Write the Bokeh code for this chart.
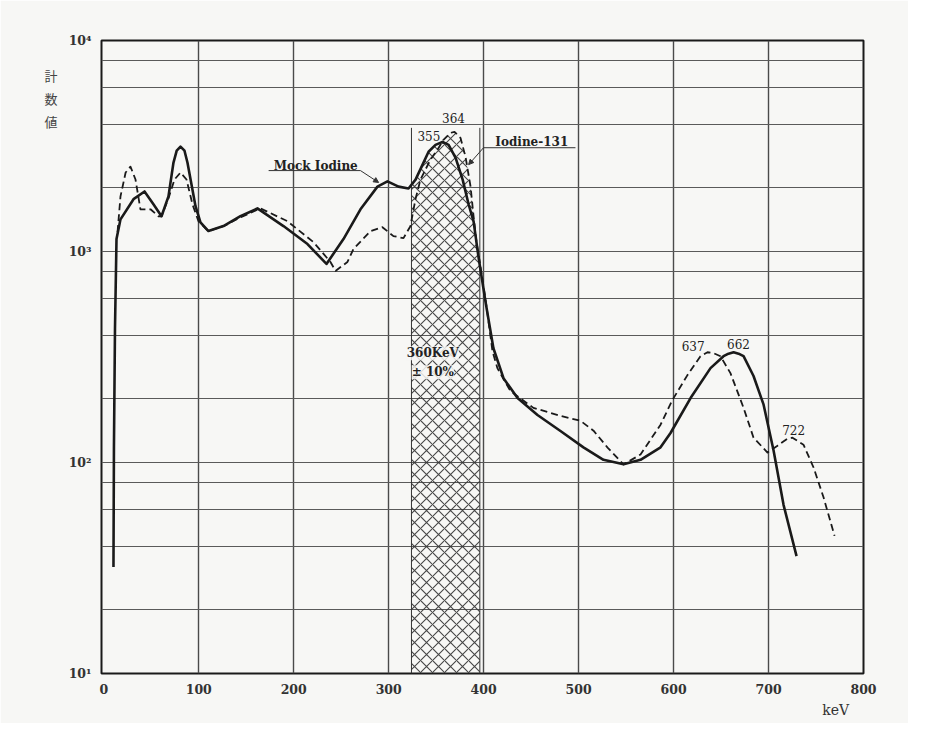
import numpy as np
from bokeh.plotting import figure
from bokeh.models import (Range1d, FixedTicker, CustomJSTickFormatter, Label,
                          Arrow, NormalHead, LogAxis, LinearAxis)
from bokeh.embed import file_html
from bokeh.resources import INLINE

# ---- data (keV, counts) ----
mock_kev = [10.2, 10.7, 11.8, 13.4, 17.6, 31.3, 42.9, 52.3, 60.8, 68.1, 73.4, 76.8,
            80.8, 85.0, 88.1, 96.6, 101.8, 110.2, 126.0, 143.9, 161.8, 189.2, 214.5,
            234.5, 252.4, 270.3, 288.2, 298.7, 310.4, 320.9, 328.3, 335.7, 342.0,
            349.3, 356.7, 363.1, 370.5, 377.9, 384.2, 389.4, 394.6, 401.9, 410.3,
            420.9, 435.7, 456.7, 480.9, 505.1, 526.2, 547.3, 565.2, 586.3, 596.8,
            617.9, 638.9, 652.6, 657.9, 663.2, 668.4, 673.7, 684.2, 694.8, 705.3,
            715.8, 729.5]
mock_cnt = [32, 118, 430, 1145, 1420, 1770, 1925, 1675, 1470, 1825, 2640, 3004,
            3140, 3004, 2640, 1640, 1375, 1250, 1320, 1470, 1600, 1320, 1085,
            873, 1145, 1585, 2030, 2150, 2030, 1990, 2190, 2580, 2970,
            3200, 3310, 3200, 2780, 2190, 1670, 1390, 940, 580, 348,
            251, 202, 168, 141, 118, 103, 98, 103, 118, 138,
            202, 280, 319, 328, 333, 328, 319, 257, 188, 114,
            63, 36]

i131_kev = [14.5, 17.6, 23.0, 28.1, 33.4, 38.6, 49.2, 57.6, 60.8, 68.1, 74.5, 80.8,
            87.1, 93.4, 99.7, 110.2, 126.0, 143.9, 164.9, 193.3, 220.8, 238.7,
            244.0, 256.6, 262.9, 280.8, 293.4, 305.0, 315.6, 322.9, 328.2, 333.5,
            344.0, 351.4, 357.7, 365.1, 369.3, 375.6, 380.9, 386.2, 389.4, 392.5,
            395.7, 401.9, 409.3, 414.5, 428.2, 452.4, 480.9, 502.0, 515.7, 530.5,
            547.3, 565.2, 586.3, 598.8, 614.6, 628.3, 635.7, 642.0, 649.4, 659.9,
            673.7, 684.2, 698.9, 709.5, 720.0, 725.2, 736.8, 747.4, 757.9, 769.5]
i131_cnt = [1235, 1825, 2367, 2526, 2194, 1585, 1585, 1469, 1469, 1784, 2194, 2367,
            2194, 1673, 1392, 1249, 1318, 1450, 1602, 1392, 1108, 892,
            809, 892, 1027, 1249, 1304, 1183, 1157, 1318, 1767, 2194,
            2724, 3036, 3384, 3650, 3690, 3458, 2814, 2033, 1469, 1108,
            902, 598, 337, 280, 218, 181.5, 166.4, 157.6, 141.5, 117.7,
            97.9, 109.1, 151, 197.9, 259.5, 318.8, 333, 330, 318.8, 265.2,
            181.5, 131.1, 111.5, 120.2, 129.7, 131.1, 121.5, 94.7, 68.4, 44.9]

window_lo, window_hi = 324, 396          # 360 keV +/- 10 %
x_ticks = [0, 100, 200, 300, 400, 500, 600, 700, 800]
y_decades = [10, 100, 1000, 10000]
y_grid = [10, 20, 40, 60, 80, 100, 200, 400, 600, 800,
          1000, 2000, 4000, 6000, 8000, 10000]

y_title_chars = ["計", "数", "値"]
y_title_pos = [6839, 5320, 4150]
x_title = "keV"
x_title_pos = 770.8

peak_labels = ["355", "364", "637", "662", "722"]
peak_x = [342.3, 368.3, 620.6, 668.4, 726.4]
peak_y = [3532, 4296, 355, 363, 143]

PAPER = "#f7f7f5"
INK = "#1a1a1a"
SERIF = "DejaVu Serif"

p = figure(width=908, height=723, y_axis_type="log",
           x_range=Range1d(-2.4, 800), y_range=Range1d(10, 10000),
           output_backend="svg", toolbar_location=None, title=None,
           min_border_left=101, min_border_right=45,
           min_border_top=40, min_border_bottom=50)
p.background_fill_color = PAPER
p.border_fill_color = PAPER
p.outline_line_color = INK
p.outline_line_width = 2

# grid
p.xgrid.ticker = FixedTicker(ticks=x_ticks[1:-1])
p.ygrid.ticker = FixedTicker(ticks=y_grid)
p.xgrid.grid_line_color = "#4a4a4a"
p.xgrid.grid_line_width = 1.4
p.ygrid.grid_line_color = "#5a5a5a"
p.ygrid.grid_line_width = 1.2

# axes
p.xaxis.ticker = FixedTicker(ticks=x_ticks)
p.yaxis.ticker = FixedTicker(ticks=y_decades)
p.yaxis.formatter = CustomJSTickFormatter(
    code="const s=['\u2070','\u00b9','\u00b2','\u00b3','\u2074'];"
         "return '10' + s[Math.round(Math.log10(tick))];")

# extra axes carrying the axis titles at their exact positions
ytitle_ax = LogAxis(ticker=FixedTicker(ticks=y_title_pos),
                    formatter=CustomJSTickFormatter(
                        args=dict(labs=y_title_chars),
                        code="return labs[index];"))
xtitle_ax = LinearAxis(ticker=FixedTicker(ticks=[x_title_pos]),
                       formatter=CustomJSTickFormatter(
                           args=dict(lab=x_title), code="return lab;"))
p.add_layout(ytitle_ax, "left")
p.add_layout(xtitle_ax, "below")

for ax in (p.xaxis[0], p.yaxis[0], ytitle_ax, xtitle_ax):
    ax.axis_line_color = None
    ax.major_tick_line_color = None
    ax.minor_tick_line_color = None
    ax.major_tick_out = 0
    ax.major_tick_in = 0
    ax.minor_tick_out = 0
    ax.minor_tick_in = 0
    ax.major_label_text_font = SERIF
    ax.major_label_text_font_size = "12.5px"
    ax.major_label_text_color = "#333333"
    ax.major_label_text_font_style = "bold"
p.xaxis[0].major_label_standoff = 10
p.yaxis[0].major_label_standoff = 10
ytitle_ax.major_label_text_font = "Noto Sans CJK JP"
ytitle_ax.major_label_text_font_size = "13px"
ytitle_ax.major_label_text_font_style = "normal"
ytitle_ax.major_label_text_color = "#444444"
ytitle_ax.major_label_standoff = 8
xtitle_ax.major_label_text_font_size = "14px"
xtitle_ax.major_label_text_font_style = "normal"
xtitle_ax.major_label_standoff = 5

# hatched energy window under the upper envelope of both curves
xs = sorted(set([window_lo, window_hi] +
                [k for k in mock_kev + i131_kev if window_lo < k < window_hi]))
env = np.maximum(np.interp(xs, mock_kev, mock_cnt), np.interp(xs, i131_kev, i131_cnt))
p.varea(x=xs, y1=[10] * len(xs), y2=env, fill_alpha=0,
        hatch_pattern="x", hatch_scale=12, hatch_weight=1.1,
        hatch_color="#333333", hatch_alpha=0.9)
for xb in (window_lo, window_hi):
    p.line(x=[xb, xb], y=[10, 3855], line_color="#333333", line_width=1)

# curves
p.line(x=i131_kev, y=i131_cnt, line_color=INK, line_width=1.8, line_dash="7 4",
       line_join="round")
p.line(x=mock_kev, y=mock_cnt, line_color=INK, line_width=2.6, line_join="round")

# labels / annotations
def lab(x, y, t, size="12px", bold=False, **kw):
    l = Label(x=x, y=y, text=t, text_font=SERIF, text_font_size=size,
              text_color="#222222", text_align="center", text_baseline="middle",
              text_font_style="bold" if bold else "normal", **kw)
    p.add_layout(l)
    return l

for t, x, y in zip(peak_labels, peak_x, peak_y):
    lab(x, y, t, size="12px")

lab(223.2, 2553, "Mock Iodine", size="12px", bold=True)
p.line(x=[173.6, 270.3], y=[2418, 2418], line_color="#333333", line_width=1)
p.add_layout(Arrow(end=NormalHead(size=5, fill_color="#333333", line_color="#333333"),
                   x_start=270.3, y_start=2418, x_end=289.4, y_end=2124,
                   line_color="#333333", line_width=1))

lab(450.7, 3311, "Iodine-131", size="12px", bold=True)
p.line(x=[399.9, 496.7], y=[3103, 3103], line_color="#333333", line_width=1)
p.add_layout(Arrow(end=NormalHead(size=5, fill_color="#333333", line_color="#333333"),
                   x_start=399.9, y_start=3103, x_end=384.2, y_end=2581,
                   line_color="#333333", line_width=1))

lab(346.5, 329.6, "360KeV", size="12px", bold=True,
    background_fill_color=PAPER, background_fill_alpha=0.85)
lab(346.5, 268, "\u00b1 10%", size="12px", bold=True,
    background_fill_color=PAPER, background_fill_alpha=0.85)

open("out.html", "w").write(file_html(p, INLINE))
